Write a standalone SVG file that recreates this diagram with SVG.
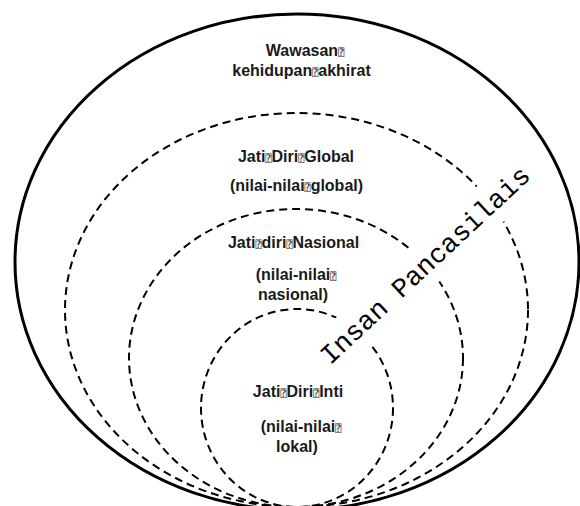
<svg xmlns="http://www.w3.org/2000/svg" width="580" height="506" viewBox="0 0 580 506">
<style>
.outer{fill:none;stroke:#000;stroke-width:3}
.dash{fill:none;stroke:#000;stroke-width:2;stroke-dasharray:8 5}
.lbl{font-family:"Liberation Sans",Arial,sans-serif;font-weight:bold;font-size:16px;fill:#1a1a1a;text-anchor:middle}
.bx{font-family:"DejaVu Sans Mono","DejaVu Sans",monospace;font-weight:normal;font-size:10px}
.insan{font-family:"Liberation Mono","DejaVu Sans Mono",monospace;font-size:27px;fill:#000;text-anchor:middle}
</style>
<rect width="580" height="506" fill="#fff"/>
<g id="wawasan">
<ellipse class="outer" cx="297" cy="262" rx="282" ry="248"/>
<text class="lbl" x="305" y="56">Wawasan<tspan class="bx">⍰</tspan></text>
<text class="lbl" x="301.5" y="76">kehidupan<tspan class="bx">⍰</tspan>akhirat</text>
</g>
<g id="global">
<ellipse class="dash" cx="296.5" cy="310" rx="231.5" ry="197"/>
<text class="lbl" x="296" y="162">Jati<tspan class="bx">⍰</tspan>Diri<tspan class="bx">⍰</tspan>Global</text>
<text class="lbl" x="296.5" y="191">(nilai-nilai<tspan class="bx">⍰</tspan>global)</text>
</g>
<g id="nasional">
<ellipse class="dash" cx="296" cy="358" rx="167" ry="149"/>
<text class="lbl" x="293.5" y="248">Jati<tspan class="bx">⍰</tspan>diri<tspan class="bx">⍰</tspan>Nasional</text>
<text class="lbl" x="296" y="280">(nilai-nilai<tspan class="bx">⍰</tspan></text>
<text class="lbl" x="293" y="300">nasional)</text>
</g>
<g id="inti">
<ellipse class="dash" cx="297" cy="408" rx="96" ry="99"/>
<text class="lbl" x="298" y="397">Jati<tspan class="bx">⍰</tspan>Diri<tspan class="bx">⍰</tspan>Inti</text>
<text class="lbl" x="301" y="432">(nilai-nilai<tspan class="bx">⍰</tspan></text>
<text class="lbl" x="297" y="452">lokal)</text>
</g>
<g id="insan-pancasilais" transform="translate(431,271.5) rotate(-43)">
<rect x="-142" y="-31" width="284" height="44" fill="#fff"/>
<text class="insan" x="0" y="0">Insan Pancasilais</text>
</g>
</svg>
